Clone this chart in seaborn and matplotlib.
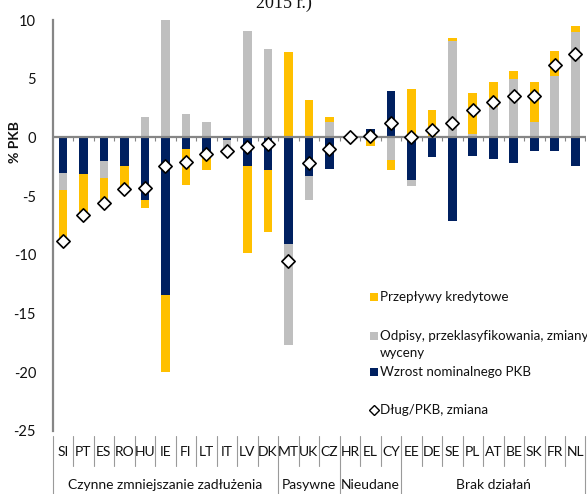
import numpy as np
import pandas as pd
import matplotlib
matplotlib.use("Agg")
import matplotlib.pyplot as plt
import seaborn as sns
from matplotlib.transforms import blended_transform_factory
from matplotlib.patches import Rectangle
from matplotlib.lines import Line2D

# Country codes in display order
countries = ["SI", "PT", "ES", "RO", "HU", "IE", "FI", "LT", "IT", "LV", "DK",
             "MT", "UK", "CZ", "HR", "EL", "CY",
             "EE", "DE", "SE", "PL", "AT", "BE", "SK", "FR", "NL"]

# Contributions to change in debt/GDP (% of GDP)
credit_flows = [-4.3, -3.4, -2.0, -1.9, -0.7, -6.6, -3.1, -1.5, 0.0, -7.45, -5.25,
                7.3, 3.15, 0.35, -0.15, -0.7, -0.85,
                4.1, 2.3, 0.3, 3.5, 2.2, 0.63, 3.4, 2.15, 0.5]
writeoffs = [-1.5, 0.0, -1.45, 0.15, 1.75, 10.0, 2.0, 1.3, -0.9, 9.1, 7.5,
             -8.6, -2.05, 1.35, 0.0, 0.0, -1.9,
             -0.5, 0.0, 8.2, 0.3, 2.55, 5.0, 1.3, 5.25, 9.0]
nominal_gdp = [-3.0, -3.1, -2.0, -2.4, -5.3, -13.4, -1.0, -1.25, -0.2, -2.4, -2.8,
               -9.1, -3.3, -2.67, 0.0, 0.75, 3.95,
               -3.65, -1.65, -7.15, -1.55, -1.85, -2.2, -1.15, -1.15, -2.4]
debt_change = [-8.8, -6.6, -5.6, -4.4, -4.3, -2.4, -2.1, -1.4, -1.2, -0.8, -0.6,
               -10.5, -2.2, -1.0, 0.05, 0.1, 1.2,
               0.0, 0.65, 1.25, 2.3, 3.0, 3.5, 3.5, 6.2, 7.1]

group_names = ["Czynne zmniejszanie zadłużenia", "Pasywne", "Nieudane", "Brak działań"]
group_sizes = [11, 3, 3, 9]

series_labels = ["Przepływy kredytowe",
                 "Odpisy, przeklasyfikowania, zmiany\nwyceny",
                 "Wzrost nominalnego PKB",
                 "Dług/PKB, zmiana"]
y_ticks = [10, 5, 0, -5, -10, -15, -20, -25]

YELLOW = "#FFC000"
GREY = "#BFBFBF"
NAVY = "#002060"
AXIS = "#868686"

sns.set_style("white")
plt.rcParams["font.family"] = ["Lato", "DejaVu Sans"]

W, H = 587, 494
fig = plt.figure(figsize=(W / 100, H / 100), dpi=100)
ax_left, ax_right, ax_top, ax_bottom = 52.7, 585.5, 20.0, 430.7
ax = fig.add_axes([ax_left / W, 1 - ax_bottom / H,
                   (ax_right - ax_left) / W, (ax_bottom - ax_top) / H])

n = len(countries)
df = pd.DataFrame({"country": countries,
                   "credit": credit_flows,
                   "writeoffs": writeoffs,
                   "gdp": nominal_gdp,
                   "debt": debt_change})

# Stack positives upward and negatives downward from zero
pos_base = np.zeros(n)
neg_base = np.zeros(n)
for col, color in [("gdp", NAVY), ("writeoffs", GREY), ("credit", YELLOW)]:
    v = df[col].to_numpy(dtype=float)
    bottom = np.where(v >= 0, pos_base, neg_base)
    sns.barplot(data=df, x="country", y=col, order=countries, color=color,
                bottom=bottom, width=0.42, errorbar=None, linewidth=0,
                saturation=1, ax=ax, zorder=2)
    pos_base += np.clip(v, 0, None)
    neg_base += np.clip(v, None, 0)

# Debt/GDP change markers
sns.scatterplot(x=np.arange(n), y=df["debt"], marker="D", s=46, color="white",
                edgecolor="black", linewidth=1.2, ax=ax, zorder=5, legend=False)

ax.axhline(0, color=AXIS, lw=1.6, zorder=3)
ax.vlines(np.arange(n) + 0.5, -0.35, 0, color=AXIS, lw=0.8, zorder=3)

ax.set_xlim(-0.5, n - 0.5)
ax.set_ylim(-25, 10)
ax.set_yticks(y_ticks)
ax.set_yticklabels([str(t) for t in y_ticks], fontsize=10.5, color="#111111")
ax.tick_params(axis="y", length=0, pad=12)
ax.set_xticks([])
ax.set_xlabel("")
ax.set_ylabel("")
for side in ["top", "right", "bottom"]:
    ax.spines[side].set_visible(False)
ax.spines["left"].set_color(AXIS)
ax.spines["left"].set_linewidth(1.6)

# Two-level category table below the plot
tr = blended_transform_factory(ax.transData, ax.transAxes)
axh = ax_bottom - ax_top


def yfrac(py):
    return (ax_bottom - py) / axh


for i, c in enumerate(countries):
    ax.text(i, yfrac(452), c, transform=tr, ha="center", va="center",
            fontsize=10, color="#111111", clip_on=False)

edges = np.concatenate([[0], np.cumsum(group_sizes)])
group_edges = set(edges.tolist())
for k in range(n + 1):
    x = k - 0.5
    y_end = yfrac(494) if k in group_edges else yfrac(466)
    ax.add_line(Line2D([x, x], [yfrac(436), y_end], transform=tr,
                       color="#9a9a9a", lw=0.8, clip_on=False))

for name, a, b in zip(group_names, edges[:-1], edges[1:]):
    ax.text((a + b - 1) / 2, yfrac(485), name, transform=tr, ha="center",
            va="center", fontsize=10, color="#111111", clip_on=False)

# Axis title
fig.text(15 / W, 1 - 142 / H, "% PKB", rotation=90, ha="center", va="center",
         fontsize=10, fontweight="bold", color="#111111")

# Heading line at the top edge
fig.text(284 / W, 1 - 8 / H, "2015 r.)", ha="center", va="baseline",
         fontsize=13, family="Liberation Serif", color="#111111")

# Legend
def fx(px):
    return px / W


def fy(py):
    return 1 - py / H


LEG_FS = 9.6
sq = 8
for py, color, label in [(297, YELLOW, series_labels[0]),
                         (336, GREY, series_labels[1].split("\n")[0]),
                         (372, NAVY, series_labels[2])]:
    fig.patches.append(Rectangle((fx(374 - sq / 2), fy(py + sq / 2)), sq / W, sq / H,
                                 transform=fig.transFigure, facecolor=color,
                                 edgecolor="none"))
    fig.text(fx(380), fy(py), label, ha="left", va="center", fontsize=LEG_FS,
             color="#111111")
fig.text(fx(380), fy(353), series_labels[1].split("\n")[1], ha="left",
         va="center", fontsize=LEG_FS, color="#111111")
fig.add_artist(Line2D([fx(374)], [fy(410)], marker="D", markersize=5.5,
                      markerfacecolor="white", markeredgecolor="black",
                      markeredgewidth=1.0, transform=fig.transFigure))
fig.text(fx(380), fy(410), series_labels[3], ha="left", va="center",
         fontsize=LEG_FS, color="#111111")

fig.savefig("out.png", dpi=100)
